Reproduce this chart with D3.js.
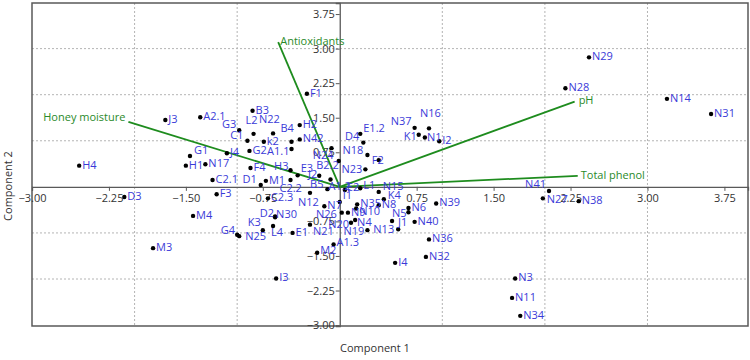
<!DOCTYPE html>
<html>
<head>
<meta charset="utf-8">
<script src="https://cdn.jsdelivr.net/npm/d3@7"></script>
<style>
  body { margin: 0; background: #fff; }
  text { font-family: "Open Sans", "Noto Sans", sans-serif; }
</style>
</head>
<body>
<div id="chart"></div>
<script>
// samples (observations) on component 1 / component 2
var sampleNames = ["H4","J3","A2.1","G1","H1","N17","J4","G3","C1","C2.1","D3","F3","M4","M3","G4","N25",
  "F1","B3","L2","N22","B4","k2","H2","N42","G2","A1.1","F4","D1","M1","C2.2","C2.3","H3","E3","J2","B5",
  "N12","A1.2","B2.2","N24","D2","N30","K3","L4","E1","N21","I3","M2","A1.3","I1","N7","N26","N9","N35",
  "N10","N20","N4","N19","N13","J1","N5","N6","N8","K4","N15","E2","L1","N39","N40","N36","N32","I4",
  "E1.2","D4","N18","F2","N23","N37","N16","K1","N1","I2","N29","N28","N14","N31","N41","N27","N38",
  "N3","N11","N34"];
var comp1 = [-2.54,-1.70,-1.36,-1.46,-1.50,-1.31,-1.10,-0.98,-0.90,-1.24,-2.10,-1.20,-1.43,-1.82,-1.00,-0.98,
  -0.32,-0.85,-0.84,-0.65,-0.47,-0.74,-0.39,-0.39,-0.88,-0.47,-0.87,-0.77,-0.72,-0.48,-0.70,-0.48,-0.41,-0.20,-0.09,
  -0.29,-0.12,-0.01,-0.08,-0.63,-0.63,-0.75,-0.65,-0.46,-0.29,-0.62,-0.22,-0.06,0.00,-0.15,0.02,0.08,0.17,
  0.16,0.11,0.15,0.27,0.57,0.51,0.67,0.67,0.38,0.43,0.38,0.05,0.20,0.94,0.73,0.87,0.84,0.54,
  0.20,0.23,0.27,0.38,0.25,0.73,0.87,0.77,0.83,0.97,2.43,2.20,3.19,3.62,2.04,1.98,2.33,
  1.71,1.68,1.76];
var comp2 = [0.46,1.45,1.51,0.67,0.46,0.49,0.73,1.23,1.00,0.15,-0.22,-0.16,-0.63,-1.33,-1.04,-1.07,
  2.02,1.65,1.15,1.16,0.98,0.98,1.34,1.03,0.78,0.82,0.41,0.04,0.13,0.15,-0.25,0.36,0.25,0.24,0.16,
  -0.13,-0.05,0.56,0.84,-0.64,-0.66,-0.94,-0.85,-1.00,-0.82,-1.99,-1.43,-1.25,-0.33,-0.42,-0.56,-0.56,-0.38,
  -0.47,-0.78,-0.72,-0.94,-0.92,-0.74,-0.55,-0.46,-0.40,-0.27,-0.11,-0.07,-0.03,-0.36,-0.76,-1.14,-1.52,-1.65,
  1.15,0.96,0.69,0.58,0.38,1.28,1.27,1.13,1.07,0.99,2.81,2.14,1.91,1.58,-0.09,-0.25,-0.31,
  -1.99,-2.41,-2.80];

// variable loadings (biplot vectors)
var varNames = ["Antioxidants","Honey moisture","pH","Total phenol"];
var varComp1 = [-0.60,-2.06,2.29,2.32];
var varComp2 = [3.14,1.41,1.85,0.24];

var xTicks = [-3.00,-2.25,-1.50,-0.75,0.75,1.50,2.25,3.00,3.75];
var yTicks = [-3.00,-2.25,-1.50,-0.75,0.75,1.50,2.25,3.00,3.75];
var gridX = [-2,-1,1,2,3];
var gridY = [-2,-1,1,2,3];

// label nudges [dx, dy, anchor] where labels were moved off the default right side
var nudge = {
  "G1":[4,-6],"G3":[-3,-6,"end"],"C1":[-4,-6,"end"],"G4":[-2,-5,"end"],"N25":[6,0],
  "L2":[-8,-14],"N22":[-14,-14],"B4":[-11,-14],"A1.1":[-2,2,"end"],"D1":[-4,-6,"end"],
  "C2.2":[-11,8],"H3":[-2,-4,"end"],"E3":[3,-7],"J2":[-2,-2,"end"],"B5":[-7,5,"end"],
  "N12":[-12,9],"A1.2":[1,-3],"B2.2":[0,4,"end"],"N24":[2,7,"end"],"D2":[-1,-3,"end"],
  "N30":[1,-3],"K3":[-2,-8,"end"],"L4":[-2,6],"N21":[3,7],"M2":[3,-3],"A1.3":[3,-2],
  "I1":[3,-7],"N26":[-5,1,"end"],"N10":[3,3],"N20":[-2,1,"end"],"N4":[2,2],"N19":[-3,1,"end"],
  "N13":[-4,0,"end"],"J1":[6,1],"N5":[-2,1,"end"],"N6":[3,-1],"K4":[4,-4],"N15":[4,-6],
  "E2":[2,-3],"L1":[3,-3],"E1.2":[3,-6],"D4":[-4,-6,"end"],"N18":[-4,-5,"end"],"F2":[-7,0],
  "N23":[-3,0,"end"],"N37":[-3,-7,"end"],"N16":[-9,-15],"K1":[-2,1,"end"],"N1":[2,0],
  "N41":[-3,-7,"end"],"N27":[4,1]
};
var varNudge = {"Antioxidants":[2,-1],"Honey moisture":[-3,-5,"end"],"pH":[4,-1],"Total phenol":[3,-1]};

var width = 750, height = 360;
var svg = d3.select("#chart").append("svg").attr("width", width).attr("height", height);

var x = d3.scaleLinear().domain([-3.0, 3.98]).range([32, 748]);
var y = d3.scaleLinear().domain([-3.02, 3.99]).range([326, 3]);

// grid
svg.selectAll(".gx").data(gridX).enter().append("line")
  .attr("x1", function(d){ return x(d); }).attr("x2", function(d){ return x(d); })
  .attr("y1", y.range()[1]).attr("y2", y.range()[0])
  .attr("stroke", "#b4b4b4").attr("stroke-dasharray", "2,2");
svg.selectAll(".gy").data(gridY).enter().append("line")
  .attr("y1", function(d){ return y(d); }).attr("y2", function(d){ return y(d); })
  .attr("x1", x.range()[0]).attr("x2", x.range()[1])
  .attr("stroke", "#b4b4b4").attr("stroke-dasharray", "2,2");

// frame
svg.append("rect")
  .attr("x", x.range()[0]).attr("y", y.range()[1])
  .attr("width", x.range()[1] - x.range()[0]).attr("height", y.range()[0] - y.range()[1])
  .attr("fill", "none").attr("stroke", "#595959").attr("stroke-width", 1.5);

// axes through the origin
var xAxis = d3.axisBottom(x).tickValues(xTicks).tickSize(4).tickFormat(d3.format(".2f"));
var yAxis = d3.axisLeft(y).tickValues(yTicks).tickSize(4).tickFormat(d3.format(".2f"));

var gx = svg.append("g").attr("transform", "translate(0," + y(0) + ")").call(xAxis);
var gy = svg.append("g").attr("transform", "translate(" + x(0) + ",0)").call(yAxis);
[gx, gy].forEach(function(g){
  g.select(".domain").attr("stroke", "#595959").attr("stroke-width", 1.3);
  g.selectAll(".tick line").attr("stroke", "#595959");
  g.selectAll(".tick text").attr("fill", "#333").style("font-size", "11px")
    .style("font-family", "'Open Sans', sans-serif");
});
gx.selectAll(".tick text").attr("dy", "0.9em").attr("y", 5);
gy.selectAll(".tick text").attr("x", -5);

// variable vectors
var vars = varNames.map(function(n, i){ return {name: n, c1: varComp1[i], c2: varComp2[i]}; });
svg.selectAll(".vec").data(vars).enter().append("line")
  .attr("x1", x(0)).attr("y1", y(0))
  .attr("x2", function(d){ return x(d.c1); }).attr("y2", function(d){ return y(d.c2); })
  .attr("stroke", "#1e8c1e").attr("stroke-width", 1.8);
svg.selectAll(".vlab").data(vars).enter().append("text")
  .attr("x", function(d){ return x(d.c1) + varNudge[d.name][0]; })
  .attr("y", function(d){ return y(d.c2) + varNudge[d.name][1]; })
  .attr("dy", "0.35em")
  .attr("text-anchor", function(d){ return varNudge[d.name][2] || "start"; })
  .attr("fill", "#2a8a2a").style("font-size", "11px")
  .text(function(d){ return d.name; });

// observations
var obs = sampleNames.map(function(n, i){ return {name: n, c1: comp1[i], c2: comp2[i]}; });
svg.selectAll(".pt").data(obs).enter().append("circle")
  .attr("cx", function(d){ return x(d.c1); })
  .attr("cy", function(d){ return y(d.c2); })
  .attr("r", 2.2).attr("fill", "#000");
svg.selectAll(".plab").data(obs).enter().append("text")
  .attr("x", function(d){ var n = nudge[d.name] || [3, -1]; return x(d.c1) + n[0]; })
  .attr("y", function(d){ var n = nudge[d.name] || [3, -1]; return y(d.c2) + n[1]; })
  .attr("dy", "0.35em")
  .attr("text-anchor", function(d){ var n = nudge[d.name]; return (n && n[2]) || "start"; })
  .attr("fill", "#3a3ad8").style("font-size", "11px")
  .text(function(d){ return d.name; });

// axis titles
svg.append("text").attr("x", 375).attr("y", 352).attr("text-anchor", "middle")
  .attr("fill", "#333").style("font-size", "11px").text("Component 1");
svg.append("text").attr("transform", "translate(12,186) rotate(-90)").attr("text-anchor", "middle")
  .attr("fill", "#333").style("font-size", "11px").text("Component 2");
</script>
</body>
</html>
